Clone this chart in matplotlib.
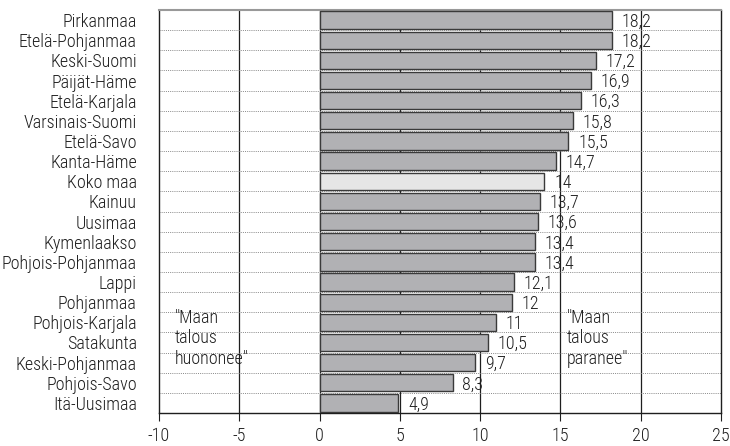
import numpy as np
import matplotlib

matplotlib.use('Agg')
import matplotlib.pyplot as plt

plt.rcParams['font.family'] = ['Roboto Condensed', 'DejaVu Sans']
plt.rcParams['font.weight'] = 'light'

REGIONS = ['Pirkanmaa', 'Etelä-Pohjanmaa', 'Keski-Suomi', 'Päijät-Häme',
           'Etelä-Karjala', 'Varsinais-Suomi', 'Etelä-Savo', 'Kanta-Häme',
           'Koko maa', 'Kainuu', 'Uusimaa', 'Kymenlaakso', 'Pohjois-Pohjanmaa',
           'Lappi', 'Pohjanmaa', 'Pohjois-Karjala', 'Satakunta',
           'Keski-Pohjanmaa', 'Pohjois-Savo', 'Itä-Uusimaa']
VALUES = [18.2, 18.2, 17.2, 16.9, 16.3, 15.8, 15.5, 14.7, 14.0, 13.7, 13.6,
          13.4, 13.4, 12.1, 12.0, 11.0, 10.5, 9.7, 8.3, 4.9]
XTICKS = [-10, -5, 0, 5, 10, 15, 20, 25]

GRAY, LIGHT = '#b1b1b4', '#e6e6e6'
INK = '#1e1e1e'
FS = 13


def fmt(v):
    s = f'{v:.1f}'.replace('.', ',')
    return s[:-2] if s.endswith(',0') else s


fig = plt.figure(figsize=(7.3, 4.46), dpi=100)
ax = fig.add_axes([159 / 730, 33 / 446, (721 - 159) / 730, (413 - 10) / 446])

n = len(REGIONS)
y = np.arange(n)
colors = [LIGHT if r == 'Koko maa' else GRAY for r in REGIONS]
ax.barh(y, VALUES, height=0.86, color=colors, edgecolor='#3a3a3a',
        linewidth=1.0, zorder=3)

for yi, v in zip(y, VALUES):
    ax.text(v + 0.6, yi + 0.08, fmt(v), va='center', ha='left',
            fontsize=FS, color=INK, zorder=4)

# vertical grid
for xv in XTICKS[1:-1]:
    ax.axvline(xv, color=INK, lw=0.9, zorder=1)
# dotted row separators
for b in np.arange(0.5, n - 0.5, 1):
    ax.axhline(b, color='#888888', lw=0.7, ls=(0, (1, 1.2)), zorder=1)

ax.text(-9.0, 15.8, '"Maan\ntalous\nhuononee"', va='center', ha='left',
        fontsize=FS, color=INK, linespacing=1.2, zorder=2)
ax.text(15.4, 15.8, '"Maan\ntalous\nparanee"', va='center', ha='left',
        fontsize=FS, color=INK, linespacing=1.2, zorder=2)

ax.set_xlim(-10, 25)
ax.set_ylim(n - 0.5, -0.5)
ax.set_xticks(XTICKS)
ax.set_xticklabels([str(t) for t in XTICKS], fontsize=FS, color=INK)
ax.set_yticks(y)
ax.set_yticklabels(REGIONS, fontsize=FS, color=INK)
ax.tick_params(axis='y', length=0, pad=16)
ax.tick_params(axis='x', length=6, direction='out', color=INK, pad=4)

for side in ['left', 'bottom', 'right']:
    ax.spines[side].set_color(INK)
    ax.spines[side].set_linewidth(1.0)
ax.spines['top'].set_color('#999999')
ax.spines['top'].set_linewidth(1.5)

fig.savefig('out.png', dpi=100)
